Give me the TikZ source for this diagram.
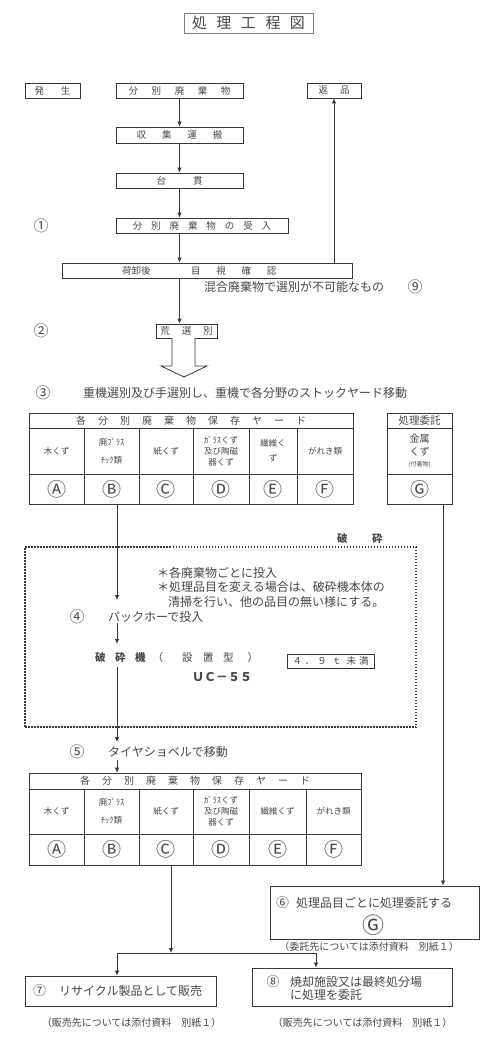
\documentclass[tikz,border=0pt]{standalone}
\usepackage{fontspec}
\setmainfont{Noto Sans CJK JP}
\usetikzlibrary{arrows.meta,calc}
\definecolor{lc}{gray}{0.22}
\definecolor{tc}{gray}{0.28}
\newcommand\gp[1]{\hspace*{#1pt}}
\newcommand\tcell[7]{\node[cell,#6,minimum width={(#4)-(#2)},minimum height={(#5)-(#3)}] (#1) at ({((#2)+(#4))/2},{((#3)+(#5))/2}) {#7};}
\newcommand\hdrtext{各\gp{12}分\gp{12}別\gp{12}廃\gp{12}棄\gp{12}物\gp{12}保\gp{12}存\gp{12}ヤ\gp{12}ー\gp{12}ド}
\begin{document}
\begin{tikzpicture}[x=1pt,y=-1pt,
  fs/.style={font=\fontsize{#1}{#1}\selectfont},
  box/.style={draw=lc,line width=0.8pt,inner sep=0pt,text=tc},
  cell/.style={draw=lc,line width=0.6pt,inner sep=0pt,text=tc,align=center,font=\fontsize{8.5}{11}\selectfont},
  txt/.style={inner sep=0pt,text=tc},
  arr/.style={draw=lc,line width=0.8pt,-{Latex[length=5pt,width=4.5pt]}},
  ln/.style={draw=lc,line width=0.8pt}]
\useasboundingbox (0,0) rectangle (497,1046);
\fill[white] (0,0) rectangle (497,1046);

% top flow
\node[box,draw=gray,minimum width=129pt,minimum height=20pt,fs=15] (title) at (248.5,23) {処\gp{9.5}理\gp{9.5}工\gp{9.5}程\gp{9.5}図};
\node[box,minimum width=55pt,minimum height=15pt,fs=9.5] (hassei) at (52.5,90.5) {発\gp{17}生};
\node[box,minimum width=127pt,minimum height=15pt,fs=9.5] (bunbetsu) at (179.5,90.5) {分\gp{13.6}別\gp{13.6}廃\gp{13.6}棄\gp{13.6}物};
\node[box,minimum width=54pt,minimum height=15pt,fs=9.5] (henpin) at (334,90.5) {返\gp{12}品};
\node[box,minimum width=127pt,minimum height=16pt,fs=9.5] (shuushu) at (179.5,135) {収\gp{16}集\gp{16}運\gp{16}搬};
\node[box,minimum width=127pt,minimum height=15pt,fs=9.5] (daikan) at (179.5,180.5) {台\gp{27}貫};
\node[box,minimum width=172pt,minimum height=15pt,fs=9.5] (ukeire) at (202,225.5) {分\gp{8.9}別\gp{8.9}廃\gp{8.9}棄\gp{8.9}物\gp{8.9}の\gp{8.9}受\gp{8.9}入};
\node[box,minimum width=290pt,minimum height=15pt] (nioroshi) at (207,270.5) {};
\node[txt,fs=9.5,anchor=west] (niorotxt) at (122,270.5) {荷卸後\gp{40.5}目\gp{15.7}視\gp{15.7}確\gp{15.7}認};
\node[box,minimum width=61pt,minimum height=14pt,fs=9.5] (arasen) at (186.5,331) {荒\gp{12}選\gp{12}別};

\draw[arr] (bunbetsu) -- (shuushu);
\draw[arr] (shuushu) -- (daikan);
\draw[arr] (daikan.south) -- (daikan.south |- ukeire.north);
\draw[arr] (ukeire.south -| daikan.south) -- (daikan.south |- nioroshi.north);
\draw[arr] (nioroshi.south -| daikan.south) -- (daikan.south |- arasen.north);
\draw[arr] (nioroshi.north -| henpin.south) -- (henpin.south);

% hollow arrow
\draw[lc,line width=0.8pt,fill=white] (172,338) -- (172,366) -- (161,366) -- (184,377) -- (207,366) -- (195,366) -- (195,338);

\node[txt,fs=15] (n1) at (41,226) {①};
\node[txt,fs=15] (n2) at (41,331) {②};
\node[txt,fs=15] (n3) at (43,393) {③};
\node[txt,fs=12,anchor=west] (mixed) at (204,287) {混合廃棄物で選別が不可能なもの};
\node[txt,fs=15] (n9) at (415,287) {⑨};
\node[txt,fs=12,anchor=west] (step3) at (83,393) {重機選別及び手選別し、重機で各分野のストックヤード移動};

% table 1
\tcell{ha1}{29}{413}{353}{428}{fs=10}{\hdrtext}
\tcell{a1n}{29}{428}{84}{474}{}{木くず}
\tcell{b1n}{84}{428}{139}{474}{}{廃ﾌﾟﾗｽ\\[7pt]ﾁｯｸ類}
\tcell{c1n}{139}{428}{193}{474}{}{紙くず}
\tcell{d1n}{193}{428}{249}{474}{}{ｶﾞﾗｽくず\\及び陶磁\\器くず}
\tcell{e1n}{249}{428}{297}{474}{}{繊維く\\[4pt]ず}
\tcell{f1n}{297}{428}{353}{474}{}{がれき類}
\tcell{a1}{29}{474}{84}{504}{fs=19}{Ⓐ}
\tcell{b1}{84}{474}{139}{504}{fs=19}{Ⓑ}
\tcell{c1}{139}{474}{193}{504}{fs=19}{Ⓒ}
\tcell{d1}{193}{474}{249}{504}{fs=19}{Ⓓ}
\tcell{e1}{249}{474}{297}{504}{fs=19}{Ⓔ}
\tcell{f1}{297}{474}{353}{504}{fs=19}{Ⓕ}
% G table
\tcell{gh}{387}{413}{452}{428}{fs=10.5}{処理委託}
\tcell{gm}{387}{428}{452}{474}{font=\fontsize{10}{13}\selectfont}{金属\\くず\\[-2pt]{\fontsize{6}{7}\selectfont (付着物)}}
\tcell{g1}{387}{474}{452}{504}{fs=19}{Ⓖ}

% crushing zone
\node[draw=lc,line width=1.6pt,dash pattern=on 1.5pt off 1.5pt,minimum width=391pt,minimum height=180pt,inner sep=0pt] (zone) at (220.5,637) {};
\node[txt,fs=10.5,anchor=west] (hasai) at (337,539) {\bfseries 破\gp{24.5}砕};
\node[txt,anchor=west,align=left,font=\fontsize{12}{14.5}\selectfont] (notes) at (157,587) {＊各廃棄物ごとに投入\\＊処理品目を変える場合は、破砕機本体の\\\gp{11}清掃を行い、他の品目の無い様にする。};
\node[txt,fs=15] (n4) at (77,617) {④};
\node[txt,fs=12,anchor=west] (step4) at (108,617) {パックホーで投入};
\node[txt,anchor=west,fs=10.5] (crusher) at (95,658) {\bfseries 破\gp{9.5}砕\gp{9.5}機\mdseries\gp{7}（\gp{19}設\gp{10.5}置\gp{9.5}型\gp{14}）};
\node[box,minimum width=87pt,minimum height=14pt,fs=9.5] (ton) at (330.5,661) {４\gp{3}．\gp{3}９\gp{5}ｔ\gp{5}未\gp{3}満};
\node[txt,fs=12,anchor=west] (uc) at (192,677) {\bfseries ＵＣ－５５};
\node[txt,fs=15] (n5) at (77,752) {⑤};
\node[txt,fs=12,anchor=west] (step5) at (108,752) {タイヤショベルで移動};

% table 2
\tcell{ha2}{29}{773}{361}{789}{fs=10}{\hdrtext}
\tcell{a2n}{29}{789}{84}{834}{}{木くず}
\tcell{b2n}{84}{789}{139}{834}{}{廃ﾌﾟﾗｽ\\[7pt]ﾁｯｸ類}
\tcell{c2n}{139}{789}{193}{834}{}{紙くず}
\tcell{d2n}{193}{789}{249}{834}{}{ｶﾞﾗｽくず\\及び陶磁\\器くず}
\tcell{e2n}{249}{789}{306}{834}{}{繊維くず}
\tcell{f2n}{306}{789}{361}{834}{}{がれき類}
\tcell{a2}{29}{834}{84}{865}{fs=19}{Ⓐ}
\tcell{b2}{84}{834}{139}{865}{fs=19}{Ⓑ}
\tcell{c2}{139}{834}{193}{865}{fs=19}{Ⓒ}
\tcell{d2}{193}{834}{249}{865}{fs=19}{Ⓓ}
\tcell{e2}{249}{834}{306}{865}{fs=19}{Ⓔ}
\tcell{f2}{306}{834}{361}{865}{fs=19}{Ⓕ}

% B line
\coordinate (p0) at (117,504);
\coordinate (p1) at (117,600);
\coordinate (p2) at (117,623);
\coordinate (p3) at (117,644);
\coordinate (p4) at (117,667);
\coordinate (p5) at (117,742);
\coordinate (p6) at (117,760);
\draw[arr] (p0) -- (p1);
\draw[arr] (p2) -- (p3);
\draw[arr] (p4) -- (p5);
\draw[arr] (p6) -- (p6 |- ha2.north);

% bottom boxes
\node[box,line width=1pt,minimum width=209pt,minimum height=53pt] (box6) at (374.5,912.5) {};
\node[txt,anchor=west] (box6t) at (276,903) {{\fontsize{13}{13}\selectfont ⑥}\gp{7}{\fontsize{12}{12}\selectfont 処理品目ごとに処理委託する}};
\node[txt,fs=22] (g2) at (373,925) {Ⓖ};
\node[txt,fs=10] (note6) at (369,947) {（委託先については添付資料　別紙１）};

\node[box,line width=1pt,minimum width=191pt,minimum height=30pt] (box7) at (120.5,991) {};
\node[txt,anchor=west] (box7t) at (33,991) {{\fontsize{13}{13}\selectfont ⑦}\gp{13}{\fontsize{12}{12}\selectfont リサイクル製品として販売}};
\node[txt,fs=10] (note7) at (131.5,1023) {（販売先については添付資料　別紙１）};

\node[box,line width=1pt,minimum width=200pt,minimum height=38pt] (box8) at (352,987) {};
\node[txt,fs=13] (n8) at (273,982) {⑧};
\node[txt,anchor=west,align=left,font=\fontsize{12}{13}\selectfont] (box8t) at (290,988.5) {焼却施設又は最終処分場\\に処理を委託};
\node[txt,fs=10] (note8) at (362.5,1023) {（販売先については添付資料　別紙１）};

% G line
\coordinate (gx) at (443,504);
\draw[arr] (gx) -- (gx |- box6.north);

% C line and split
\coordinate (cx) at (171,865);
\coordinate (split) at (171,953);
\coordinate (j7) at (117,953);
\coordinate (j8) at (316,953);
\draw[arr] (cx) -- (split);
\draw[ln] (j7) -- (j8);
\draw[arr] (j7) -- (j7 |- box7.north);
\draw[arr] (j8) -- (j8 |- box8.north);
\end{tikzpicture}
\end{document}
